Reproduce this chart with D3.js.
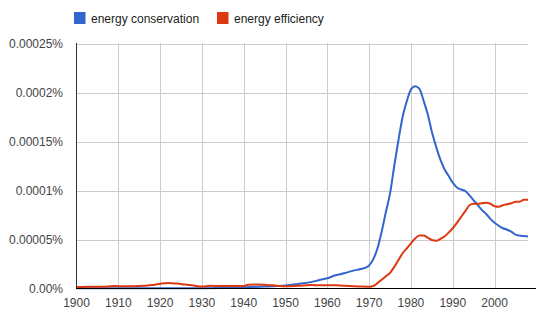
<!DOCTYPE html>
<html><head><meta charset="utf-8">
<script src="https://cdn.jsdelivr.net/npm/d3@7"></script>
<style>body{margin:0;background:#fff;}svg{display:block;font-family:Arial,"Liberation Sans",sans-serif;}</style>
</head><body>
<svg id="c" width="536" height="321"></svg>
<script>
// values in units of 0.000001 %
const seriesNames = ["energy conservation", "energy efficiency"];
const seriesColors = ["#3366cc", "#dc3912"];
const consYears = [1900,1905,1910,1915,1920,1925,1930,1935,1940,1945,1948,1950,1953,1956,1958,1960,1962,1964,1966,1968,1969,1970,1971,1972,1973,1974,1975,1976,1977,1978,1979,1980,1981,1982,1983,1984,1985,1986,1987,1988,1989,1990,1991,1992,1993,1994,1995,1996,1997,1998,1999,2000,2001,2002,2003,2004,2005,2006,2007,2008];
const consValues = [0.3,0.3,0.3,0.3,0.3,0.3,0.3,0.5,1.2,2.0,2.5,3.0,4.6,6.5,8.5,10.5,13.5,15.5,18,19.9,21,23.5,30,41,58,78,97,125,151,175,191,203,206.5,204,192,178,160,145,132,122,115,108,103,101,99.5,95,90,85,80,76,71,67,64,61.5,60,58,55,54,53.5,53];
const effYears = [1900,1903,1906,1909,1912,1915,1918,1920,1922,1924,1926,1928,1930,1932,1934,1936,1938,1940,1941,1943,1945,1947,1950,1953,1956,1958,1960,1962,1964,1966,1968,1970,1971,1972,1973,1974,1975,1976,1977,1978,1979,1980,1981,1982,1983,1984,1985,1986,1987,1988,1989,1990,1991,1992,1993,1994,1995,1996,1997,1998,1999,2000,2001,2002,2003,2004,2005,2006,2007,2008];
const effValues = [1.5,1.8,1.8,2.5,2.3,2.5,3.5,4.8,5.6,5.0,4.0,3.0,2.0,2.8,2.5,2.6,2.6,2.5,3.8,4.0,3.8,3.2,2.3,2.8,3.5,3.3,3.2,3.4,2.8,2.4,2.0,1.9,2.5,5.5,9,12.5,16,22,29,36,41,46,51,54,54,52,49.5,48.8,50.5,53,57,61.5,67,73,79,85,86.5,86.5,87,87.5,86.5,84,83.5,85,86,87,88.5,88.5,90.5,90.5];
const yTicks = [0,50,100,150,200,250];
const yTickLabels = ["0.00%","0.00005%","0.0001%","0.00015%","0.0002%","0.00025%"];
const xTicks = [1900,1910,1920,1930,1940,1950,1960,1970,1980,1990,2000];

const svg = d3.select("#c");
const x = d3.scaleLinear().domain([1900,2008]).range([76.5,528]);
const y = d3.scaleLinear().domain([0,250]).range([288.5,43.5]);

// grid
svg.append("g").selectAll("line").data(yTicks.slice(1)).join("line")
  .attr("x1",76).attr("x2",528).attr("y1",d=>Math.round(y(d))+0.5).attr("y2",d=>Math.round(y(d))+0.5)
  .attr("stroke","#ccc").attr("stroke-width",1);
svg.append("g").selectAll("line").data(xTicks.slice(1)).join("line")
  .attr("x1",d=>Math.round(x(d))+0.5).attr("x2",d=>Math.round(x(d))+0.5).attr("y1",43).attr("y2",288)
  .attr("stroke","#ccc").attr("stroke-width",1);

// y labels
svg.append("g").selectAll("text").data(yTicks).join("text")
  .attr("x",63).attr("y",d=>y(d)+4.5).attr("text-anchor","end")
  .attr("font-size",12).attr("fill","#444").text((d,i)=>yTickLabels[i]);
// x labels
svg.append("g").selectAll("text").data(xTicks).join("text")
  .attr("x",d=>x(d)).attr("y",307).attr("text-anchor","middle")
  .attr("font-size",12).attr("fill","#444").text(d=>d);

// lines
const line = d3.line().x(d=>x(d[0])).y(d=>y(d[1])).curve(d3.curveMonotoneX);
const data = [d3.zip(consYears,consValues), d3.zip(effYears,effValues)];
svg.append("g").selectAll("path").data(data).join("path")
  .attr("d",line).attr("fill","none").attr("stroke",(d,i)=>seriesColors[i])
  .attr("stroke-width",2).attr("stroke-linejoin","round");

// axes
svg.append("line").attr("x1",76.5).attr("x2",76.5).attr("y1",43).attr("y2",289).attr("stroke","#333").attr("stroke-width",1);
svg.append("line").attr("x1",76).attr("x2",536).attr("y1",288.5).attr("y2",288.5).attr("stroke","#000").attr("stroke-width",1);

// legend
const legX = [74,217];
const leg = svg.append("g").selectAll("g").data(seriesNames).join("g")
  .attr("transform",(d,i)=>`translate(${legX[i]},12)`);
leg.append("rect").attr("width",11.5).attr("height",12).attr("fill",(d,i)=>seriesColors[i]);
leg.append("text").attr("x",17).attr("y",10.5).attr("font-size",12).attr("fill","#222").text(d=>d);
</script>
</body></html>
